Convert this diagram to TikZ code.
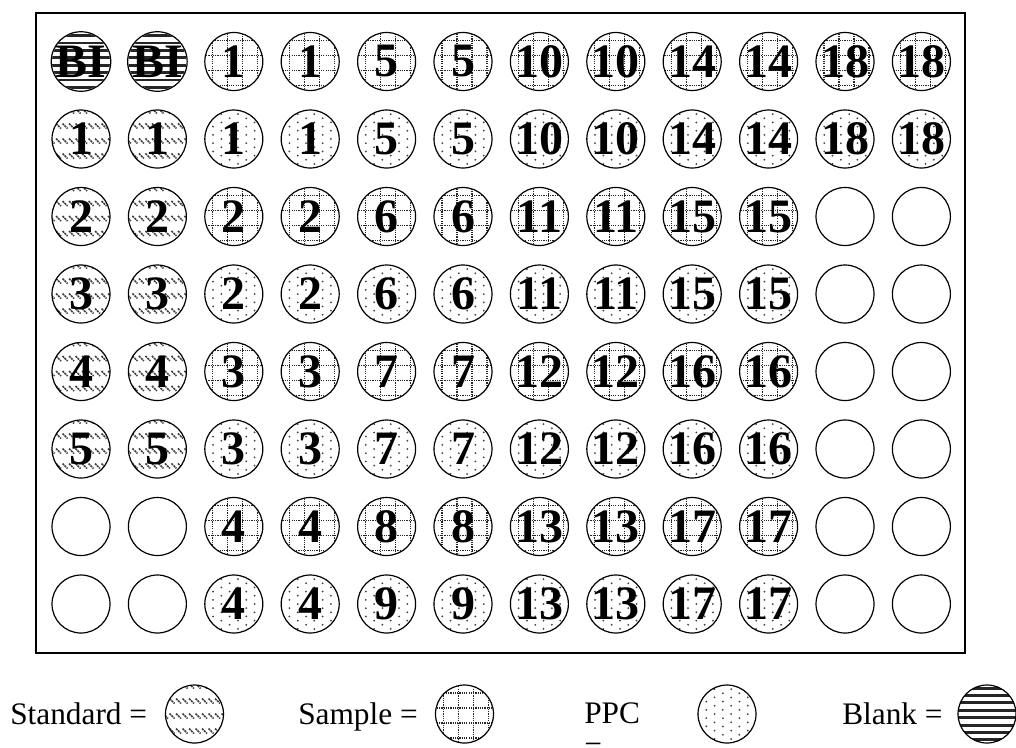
\documentclass[tikz,border=0pt]{standalone}
\usepackage{fontspec}
\setmainfont{Liberation Serif}

\tikzset{
  well/.style={circle,draw,line width=0.9pt,minimum size=43.5pt,inner sep=0pt,
    font=\fontsize{36}{36}\selectfont\bfseries},
  legtext/.style={inner sep=0pt,font=\fontsize{23.5}{27}\selectfont},
  gridline/.style={line width=1pt,black!85,dash pattern=on 0.9pt off 0.8pt},
  stdstroke/.style={line width=1.2pt,black!75,dash pattern=on 1.6pt off 0.6pt},
  blkline/.style={line width=2.2pt,black!85}
}

% fills, one per kind of well (x, y in px)
\newcommand{\wellstd}[2]{%
  \begin{scope}
    \clip (#1,#2) circle (21.75pt);
    \foreach \vv in {-28,-13,2,17,32}
      \foreach \uu in {-29,-22.5,...,30}
        \draw[stdstroke] ({#1+\uu-2.5},{#2+\vv-2.5}) -- ++(5,5);
  \end{scope}}
\newcommand{\wellsmp}[2]{%
  \begin{scope}
    \clip (#1,#2) circle (21.75pt);
    \foreach \kk in {-21,-6,9,24} {
      \draw[gridline] ({#1+\kk},{#2-30}) -- ++(0,60);
      \draw[gridline] ({#1-30},{#2+\kk}) -- ++(60,0);
    }
  \end{scope}}
\newcommand{\wellppc}[2]{%
  \begin{scope}
    \clip (#1,#2) circle (21.75pt);
    \foreach \ii [evaluate=\ii as \off using {4.15*mod(\ii+4,2)}] in {-4,...,3}
      \foreach \jj in {-4,...,4}
        \fill[black!75] ({#1+8.3*\ii+4.15},{#2+8.3*\jj+\off}) circle (0.75pt);
  \end{scope}}
\newcommand{\wellblk}[2]{%
  \begin{scope}
    \clip (#1,#2) circle (21.75pt);
    \foreach \kk in {-3.5,-2.5,...,3.5}
      \draw[blkline] ({#1-30},{#2+7.4*\kk}) -- ++(60,0);
  \end{scope}}
\newcommand{\wellnon}[2]{}

% row, column, kind, label
\newcommand{\wellat}[4]{%
  \pgfmathsetmacro\wx{81+76.4*#2}%
  \pgfmathsetmacro\wy{61.5+77.5*#1}%
  \csname well#3\endcsname{\wx}{\wy}%
  \node[well] (w#1-#2) at (\wx,\wy) {#4};}

\begin{document}
\begin{tikzpicture}[x=0.75pt,y=-0.75pt]
  \useasboundingbox (0,0) rectangle (1016,747);
  % plate
  \draw[line width=1.5pt] (36,12.5) rectangle (965,653);
  % wells, row by row
  \foreach \kind/\lab [count=\c from 0] in {blk/BI,blk/BI,smp/1,smp/1,smp/5,smp/5,smp/10,smp/10,smp/14,smp/14,smp/18,smp/18}
    \wellat{0}{\c}{\kind}{\lab};
  \foreach \kind/\lab [count=\c from 0] in {std/1,std/1,ppc/1,ppc/1,ppc/5,ppc/5,ppc/10,ppc/10,ppc/14,ppc/14,ppc/18,ppc/18}
    \wellat{1}{\c}{\kind}{\lab};
  \foreach \kind/\lab [count=\c from 0] in {std/2,std/2,smp/2,smp/2,smp/6,smp/6,smp/11,smp/11,smp/15,smp/15,non/{},non/{}}
    \wellat{2}{\c}{\kind}{\lab};
  \foreach \kind/\lab [count=\c from 0] in {std/3,std/3,ppc/2,ppc/2,ppc/6,ppc/6,ppc/11,ppc/11,ppc/15,ppc/15,non/{},non/{}}
    \wellat{3}{\c}{\kind}{\lab};
  \foreach \kind/\lab [count=\c from 0] in {std/4,std/4,smp/3,smp/3,smp/7,smp/7,smp/12,smp/12,smp/16,smp/16,non/{},non/{}}
    \wellat{4}{\c}{\kind}{\lab};
  \foreach \kind/\lab [count=\c from 0] in {std/5,std/5,ppc/3,ppc/3,ppc/7,ppc/7,ppc/12,ppc/12,ppc/16,ppc/16,non/{},non/{}}
    \wellat{5}{\c}{\kind}{\lab};
  \foreach \kind/\lab [count=\c from 0] in {non/{},non/{},smp/4,smp/4,smp/8,smp/8,smp/13,smp/13,smp/17,smp/17,non/{},non/{}}
    \wellat{6}{\c}{\kind}{\lab};
  \foreach \kind/\lab [count=\c from 0] in {non/{},non/{},ppc/4,ppc/4,ppc/9,ppc/9,ppc/13,ppc/13,ppc/17,ppc/17,non/{},non/{}}
    \wellat{7}{\c}{\kind}{\lab};
  % legend
  \node[legtext,anchor=base west] (tstd) at (10,724) {Standard =};
  \wellstd{194.5}{714}
  \node[well] (lstd) at (194.5,714) {};
  \node[legtext,anchor=base west] (tsmp) at (298,724) {Sample =};
  \wellsmp{464.5}{714}
  \node[well] (lsmp) at (464.5,714) {};
  \node[legtext,anchor=base west] (tppc) at (584,723) {PPC};
  \node[legtext,anchor=base west] (tppceq) at (584,757) {=};
  \wellppc{727}{714}
  \node[well] (lppc) at (727,714) {};
  \node[legtext,anchor=base west] (tblk) at (842,724) {Blank =};
  \wellblk{987}{714}
  \node[well] (lblk) at (987,714) {};
\end{tikzpicture}
\end{document}
